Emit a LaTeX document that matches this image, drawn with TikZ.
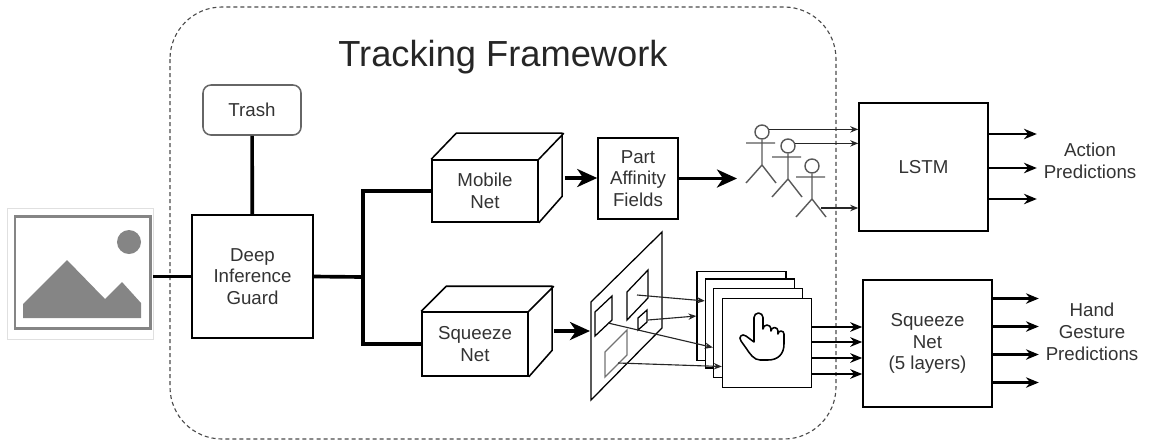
\documentclass[tikz,border=0pt]{standalone}
\usepackage{fontspec}
\setmainfont{Liberation Sans}
\usetikzlibrary{arrows.meta, calc}

\begin{document}
\begin{tikzpicture}[
    x=0.025cm, y=-0.025cm,
    txt/.style={font=\fontsize{13.3}{15.5}\selectfont, text=black!80, align=center},
    base/.style={txt, draw, fill=white, line width=1.1pt, inner sep=0pt},
    face/.style={line width=1.1pt, line join=round},
    wire/.style={line width=2.6pt},
    bigarrow/.style={-{Stealth[length=0.5cm, width=0.45cm, inset=0.15cm]}, line width=2.4pt},
    thinarrow/.style={-{Stealth[length=0.2cm, width=0.16cm]}, line width=0.8pt, draw=black!85},
    outarrow/.style={-{Stealth[length=0.32cm, width=0.26cm]}, line width=1.5pt},
    featarrow/.style={-{Stealth[length=0.3cm, width=0.24cm]}, line width=2pt},
    person/.style={draw=black!65, line width=1pt},
    icon/.style={fill=black!48, draw=none},
    frame/.style={draw=black!70, line width=0.8pt, dash pattern=on 0.1cm off 0.075cm, rounded corners=1.3cm}
  ]
  \useasboundingbox (0,0) rectangle (1150,443);

  % ---- tracking framework container ----
  \draw[frame] (170,7) rectangle (836,439);
  \node[font=\fontsize{25.8}{30}\selectfont, text=black!85] (title) at (503,57) {Tracking Framework};

  % ---- input picture ----
  \node[draw=black!12, line width=0.6pt, minimum width=3.65cm, minimum height=3.275cm] (img) at (80,273.5) {};
  \draw[draw=black!48, line width=2.1pt] (15,216.5) rectangle (150.5,328.5);
  \fill[icon] (23,318) -- (23,304) -- (67,260) -- (105,299) -- (122,282) -- (141,303) -- (141,318) -- cycle;
  \fill[icon] (129,242) circle[radius=0.3cm];

  % ---- guard + trash ----
  \node[base, minimum width=3.025cm, minimum height=3.075cm] (dig) at (252.5,276.5) {Deep\\Inference\\Guard};
  \node[base, draw=black!60, rounded corners=0.2cm, minimum width=2.45cm, minimum height=1.25cm] (trash) at (252,110) {Trash};

  \draw[wire] (dig.west -| img.east) -- (dig.west);
  \draw[wire] (trash) -- (dig);

  % ---- two branches ----
  \node[base, minimum width=2.65cm, minimum height=1.55cm] (mn) at (485,191) {Mobile\\Net};
  \draw[face] (mn.north west) -- ++(25,-26) -- ++(106,0) -- ++(0,63) -- (mn.south east)
              (mn.north east) -- ++(25,-26);
  \node[base, minimum width=2.65cm, minimum height=1.6cm] (sq) at (475,344) {Squeeze\\Net};
  \draw[face] (sq.north west) -- ++(25,-25) -- ++(106,0) -- ++(0,64) -- (sq.south east)
              (sq.north east) -- ++(25,-25);

  \coordinate (split) at (363,277);
  \draw[wire] (dig.east) -- (split);
  \draw[wire] (mn.west) -| (split) |- (sq.west);

  % ---- pose branch ----
  \node[base, minimum width=2cm, minimum height=2.025cm] (paf) at (638,178.5) {Part\\Affinity\\Fields};
  \coordinate (mnside) at ($(mn.east)+(26,-13)$);
  \draw[bigarrow] (mnside) -- (paf.west |- mnside);
  \coordinate (crowd) at (737,178.5);
  \draw[bigarrow] (paf.east) -- (crowd);

  \foreach \i/\hx/\hy in {1/762/132, 2/788/146, 3/812/166} {
    \node[person, circle, minimum size=0.35cm, inner sep=0pt] (p\i) at (\hx,\hy) {};
    \draw[person] (\hx-16,\hy+11) -- (\hx+13,\hy+11)
                  (p\i.south) -- (\hx,\hy+33)
                  (\hx-16,\hy+51) -- (\hx,\hy+33) -- (\hx+14,\hy+51);
  }

  \node[base, minimum width=3.225cm, minimum height=3.2cm] (lstm) at (923.5,167) {LSTM};
  \draw[thinarrow] (p1.20) -- (p1.20 -| lstm.west);
  \draw[thinarrow] (p2.20) -- (p2.20 -| lstm.west);
  \coordinate (leg3) at (821,208);
  \draw[thinarrow] (leg3) -- (leg3 -| lstm.west);

  \foreach \dy [count=\k] in {-33,1,32} {
    \coordinate (ao\k) at ($(lstm.east)+(0,\dy)$);
    \draw[outarrow] (ao\k) -- ++(48,0);
  }
  \node[txt] (act) at (1090,161) {Action\\Predictions};

  % ---- hand branch: feature plane ----
  \coordinate (pl) at (590,331);
  \coordinate (sqside) at ($(sq.east)+(25,-13)$);
  \draw[bigarrow] (sqside) -- (pl);

  \draw[line width=0.9pt] (591,302) -- (662,232) -- (662,328) -- (591,400) -- cycle;
  \draw[line width=0.9pt] (595,336) -- ++(0,-24) -- ++(17,-16) -- ++(0,24) -- cycle;
  \draw[line width=0.9pt] (627,320) -- ++(0,-28) -- ++(21,-22) -- ++(0,28) -- cycle;
  \draw[line width=0.9pt] (638,330) -- ++(0,-12) -- ++(9,-8) -- ++(0,12) -- cycle;
  \draw[line width=0.9pt, draw=black!55] (605,377) -- ++(0,-25) -- ++(22,-22) -- ++(0,25) -- cycle;

  % stacked crops
  \foreach \i/\x/\y in {1/741.5/316, 2/750/323.5, 3/758/333, 4/767/343}
    \node[base, minimum size=2.22cm] (fm\i) at (\x,\y) {};

  \coordinate (s1) at (637,295);
  \coordinate (s2) at (648,320);
  \coordinate (s3) at (608,323);
  \coordinate (s4) at (618,363);
  \draw[thinarrow] (s1) -- ($(fm2.north west)!0.25!(fm2.south west)$);
  \draw[thinarrow] (s2) -- (fm1.west);
  \draw[thinarrow] (s3) -- ($(fm3.north west)!0.66!(fm3.south west)$);
  \draw[thinarrow] (s4) -- ($(fm4.north west)!0.76!(fm4.south west)$);

  % pointing hand
  \begin{scope}[shift={($(fm4.center)+(-5,-5)$)}, x=0.025cm, y=0.025cm]
    \draw[line width=1.1pt, line join=round]
      (-8,3) -- (-8,20.5) arc[start angle=180, end angle=0, radius=4.5]
      -- (1,9) arc[start angle=180, end angle=0, radius=4]
      -- (9,7) arc[start angle=180, end angle=0, radius=3.5]
      -- (16,4) arc[start angle=180, end angle=0, radius=3]
      -- (22,-6) .. controls (22,-16) and (16,-22) .. (6,-22)
      -- (-2,-22) .. controls (-8,-22) and (-12,-16) .. (-16,-10)
      -- (-21,-3) .. controls (-24,1) and (-20,5) .. (-16,2)
      -- (-8,-4) -- cycle;
  \end{scope}

  \node[base, minimum width=3.225cm, minimum height=3.175cm] (sq5) at (927.5,343.5) {Squeeze\\Net\\(5 layers)};
  \foreach \dy [count=\k] in {-16,-1,15,31} {
    \coordinate (fo\k) at ($(fm4.east)+(0,\dy)$);
    \draw[featarrow] (fo\k) -- (fo\k -| sq5.west);
  }

  \foreach \dy [count=\k] in {-45,-17,11,39} {
    \coordinate (go\k) at ($(sq5.east)+(0,\dy)$);
    \draw[outarrow] (go\k) -- ++(46,0);
  }
  \node[txt] (hgp) at (1092,332) {Hand\\Gesture\\Predictions};

\end{tikzpicture}
\end{document}
